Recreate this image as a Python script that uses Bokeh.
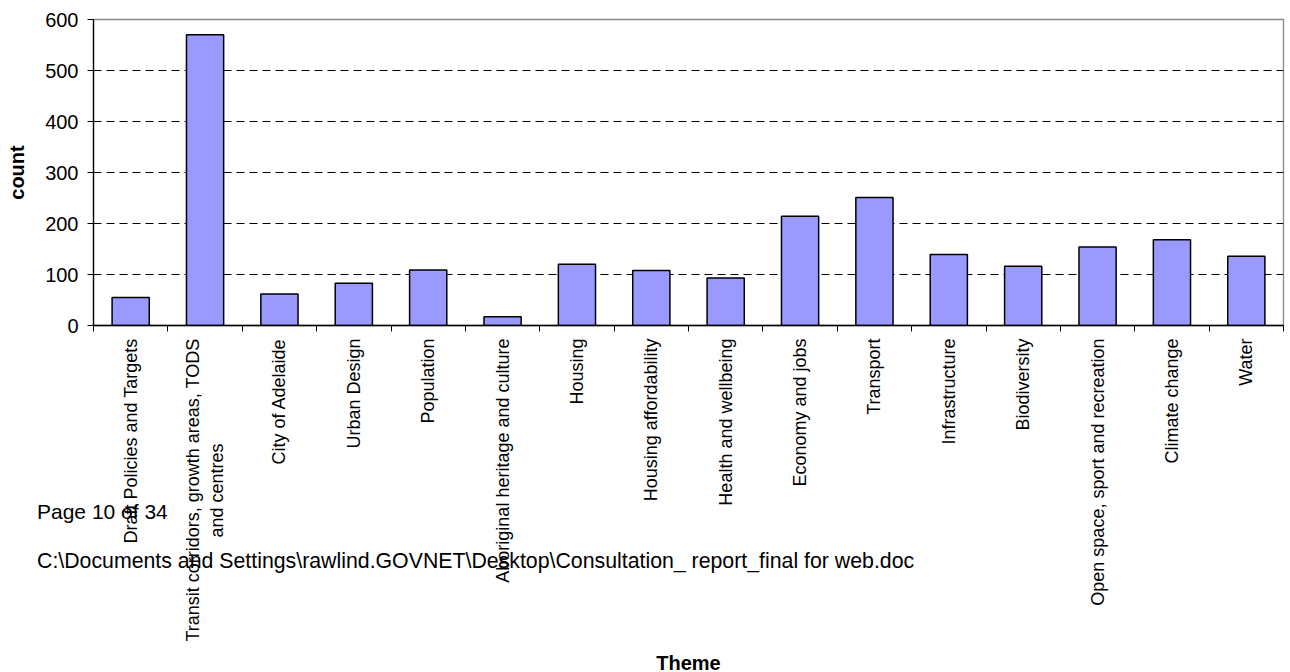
import math
from bokeh.plotting import figure
from bokeh.models import (FactorRange, Range1d, LinearAxis, CategoricalAxis,
                          FixedTicker, Div)
from bokeh.layouts import column
from bokeh.embed import file_html
from bokeh.resources import INLINE

# Number of submissions per theme; the second name is wrapped onto two
# lines, the short line padded with no-break spaces so it sits centred
themes = [
    "Draft Policies and Targets",
    "Transit corridors, growth areas, TODS\nand centres" + "\u00a0" * 21,
    "City of Adelaide",
    "Urban Design",
    "Population",
    "Aboriginal heritage and culture",
    "Housing",
    "Housing affordability",
    "Health and wellbeing",
    "Economy and jobs",
    "Transport",
    "Infrastructure",
    "Biodiversity",
    "Open space, sport and recreation",
    "Climate change",
    "Water",
]
counts = [55, 570, 62, 83, 109, 17, 120, 108, 93, 214, 251, 139, 116, 154, 168, 136]
y_ticks = [0, 100, 200, 300, 400, 500, 600]

footer_lines = [
    "Page 10 of 34",
    "C:\\Documents and Settings\\rawlind.GOVNET\\Desktop\\Consultation_ report_final for web.doc",
]

FONT = "Liberation Sans"

p = figure(
    x_range=FactorRange(*themes),
    y_range=Range1d(0, 600),
    frame_width=1190, frame_height=306,
    min_border_left=93, min_border_top=19, min_border_right=7, min_border_bottom=347,
    x_axis_location=None, y_axis_location="left",
    output_backend="svg", toolbar_location=None,
    background_fill_color="white", border_fill_color="white",
)

p.vbar(x=themes, top=counts, width=0.5, bottom=0,
       fill_color="#9999FF", line_color="black", line_width=1.5)

# frame
p.outline_line_color = "#888888"
p.outline_line_width = 1.3

# horizontal dashed grid
p.xgrid.visible = False
p.ygrid.ticker = FixedTicker(ticks=y_ticks[1:-1])
p.ygrid.grid_line_color = "black"
p.ygrid.grid_line_dash = "8 5"
p.ygrid.grid_line_width = 1

# y axis
ya = p.yaxis[0]
ya.ticker = FixedTicker(ticks=y_ticks)
ya.minor_tick_line_color = None
ya.major_tick_in = 0
ya.major_tick_out = 6
ya.major_tick_line_color = "black"
ya.axis_line_color = "black"
ya.axis_line_width = 1.3
ya.major_label_text_font = FONT
ya.major_label_text_font_size = "20px"
ya.major_label_text_color = "black"
ya.major_label_standoff = 9
ya.axis_label = "count"
ya.axis_label_text_font = FONT
ya.axis_label_text_font_size = "20px"
ya.axis_label_text_font_style = "bold"
ya.axis_label_text_color = "black"
ya.axis_label_standoff = 14

# x axis: tick marks on the boundaries between categories (no labels)
tick_axis = LinearAxis(ticker=FixedTicker(ticks=list(range(len(themes) + 1))))
tick_axis.major_label_text_font_size = "1px"
tick_axis.major_label_text_color = None
tick_axis.major_label_standoff = 0
tick_axis.minor_tick_line_color = None
tick_axis.major_tick_in = 0
tick_axis.major_tick_out = 6
tick_axis.major_tick_line_color = "black"
tick_axis.axis_line_color = "black"
tick_axis.axis_line_width = 1.3
p.add_layout(tick_axis, "below")

# x axis: theme names, reading upwards
cat_axis = CategoricalAxis()
cat_axis.axis_line_color = None
cat_axis.major_tick_line_color = None
cat_axis.major_tick_in = 0
cat_axis.major_tick_out = 0
cat_axis.major_label_orientation = math.pi / 2
cat_axis.major_label_text_font = FONT
cat_axis.major_label_text_font_size = "18px"
cat_axis.major_label_text_color = "black"
cat_axis.major_label_standoff = 7
cat_axis.axis_label = "Theme"
cat_axis.axis_label_text_font = FONT
cat_axis.axis_label_text_font_size = "20px"
cat_axis.axis_label_text_font_style = "bold"
cat_axis.axis_label_text_color = "black"
cat_axis.axis_label_standoff = 7
p.add_layout(cat_axis, "below")

# page footer printed across the lower part of the chart
footer_tops = [500, 549]
footer_sizes = ["21px", "21.3px"]
divs = []
for txt, top, size in zip(footer_lines, footer_tops, footer_sizes):
    html = ('<div style="font-family:\'Liberation Sans\';font-size:' + size + ';line-height:24px;'
            'white-space:nowrap;color:black;">' + txt + '</div>')
    divs.append(Div(text=html, width=950, height=24, margin=0,
                    styles={"position": "absolute", "left": "37px", "top": f"{top}px",
                            "z-index": "5"}))

page = column(p, *divs, styles={"position": "relative"})

open("out.html", "w").write(file_html(page, INLINE))
